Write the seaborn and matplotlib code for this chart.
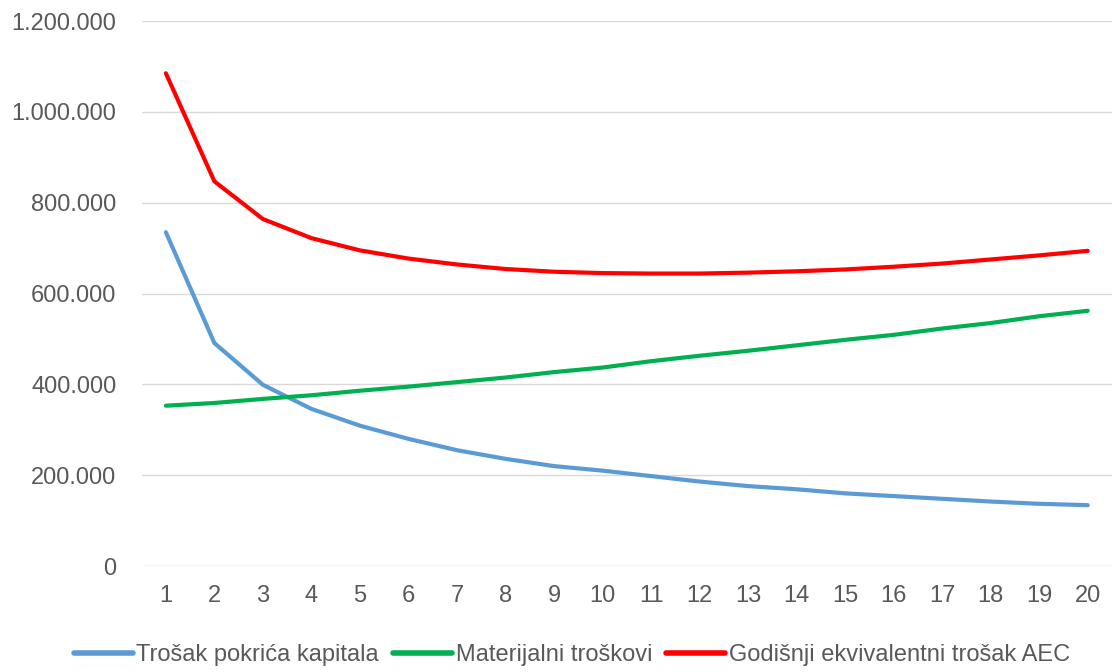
import numpy as np
import pandas as pd
import matplotlib
matplotlib.use("Agg")
import matplotlib.pyplot as plt
import seaborn as sns
from matplotlib import font_manager
from matplotlib.ticker import FuncFormatter

years = list(range(1, 21))
kapital = [735000, 491000, 399000, 346000, 309000, 280000, 255000, 236000, 220000, 210000,
           198000, 186000, 176000, 169000, 160000, 154000, 148000, 142000, 137000, 134000]
materijalni = [353000, 359000, 368000, 376000, 386000, 395000, 405000, 415000, 427000, 437000,
               451000, 463000, 474000, 486000, 498000, 509000, 523000, 535000, 550000, 562000]
aec = [1085000, 847000, 764000, 722000, 695000, 677000, 664000, 654000, 648000, 645000,
       644000, 644000, 646000, 649000, 653000, 659000, 666000, 675000, 684000, 694000]
series_names = ["Trošak pokrića kapitala", "Materijalni troškovi", "Godišnji ekvivalentni trošak AEC"]
colors = ["#5B9BD5", "#00B050", "#FF0000"]
yticks = [0, 200000, 400000, 600000, 800000, 1000000, 1200000]

df = pd.DataFrame({
    "year": years * 3,
    "value": kapital + materijalni + aec,
    "series": [series_names[0]] * 20 + [series_names[1]] * 20 + [series_names[2]] * 20,
})

sns.set_theme(style="white")
avail = {f.name for f in font_manager.fontManager.ttflist}
fam = "Liberation Sans Narrow" if "Liberation Sans Narrow" in avail else "Liberation Sans"
plt.rcParams["font.family"] = [fam, "DejaVu Sans"]

fig = plt.figure(figsize=(11.15, 6.72), dpi=100)
ax = fig.add_axes([0.127, 0.1577, 0.8703, 0.811])

sns.lineplot(data=df, x="year", y="value", hue="series", palette=colors,
             hue_order=series_names, linewidth=3, ax=ax, legend=True)
for line in ax.lines:
    line.set_solid_capstyle("round")
    line.set_solid_joinstyle("round")

ax.set_xlim(0.5, 20.5)
ax.set_ylim(0, 1200000)
ax.set_xticks(years)
ax.set_yticks(yticks)
ax.yaxis.set_major_formatter(FuncFormatter(lambda v, p: f"{int(v):,}".replace(",", ".")))
ax.grid(axis="y", color="#D9D9D9", linewidth=1)
ax.set_axisbelow(True)
for s in ["top", "right", "left", "bottom"]:
    ax.spines[s].set_visible(False)
ax.tick_params(axis="both", length=0, labelsize=17, colors="#595959")
ax.tick_params(axis="x", pad=14)
ax.tick_params(axis="y", pad=18)
ax.set_xlabel("")
ax.set_ylabel("")

handles, labels = ax.get_legend_handles_labels()
leg = ax.legend(handles, labels, loc="center", bbox_to_anchor=(0.5735, -0.127 - 0.0),
                bbox_transform=fig.transFigure if False else ax.transAxes,
                ncol=3, frameon=False, fontsize=17, handlelength=2.5, handletextpad=0.15,
                columnspacing=0.6, labelcolor="#595959")
for h in leg.get_lines():
    h.set_linewidth(4)
leg.set_bbox_to_anchor((0.513, 0.025), transform=fig.transFigure)

fig.savefig("out.png", dpi=100)
